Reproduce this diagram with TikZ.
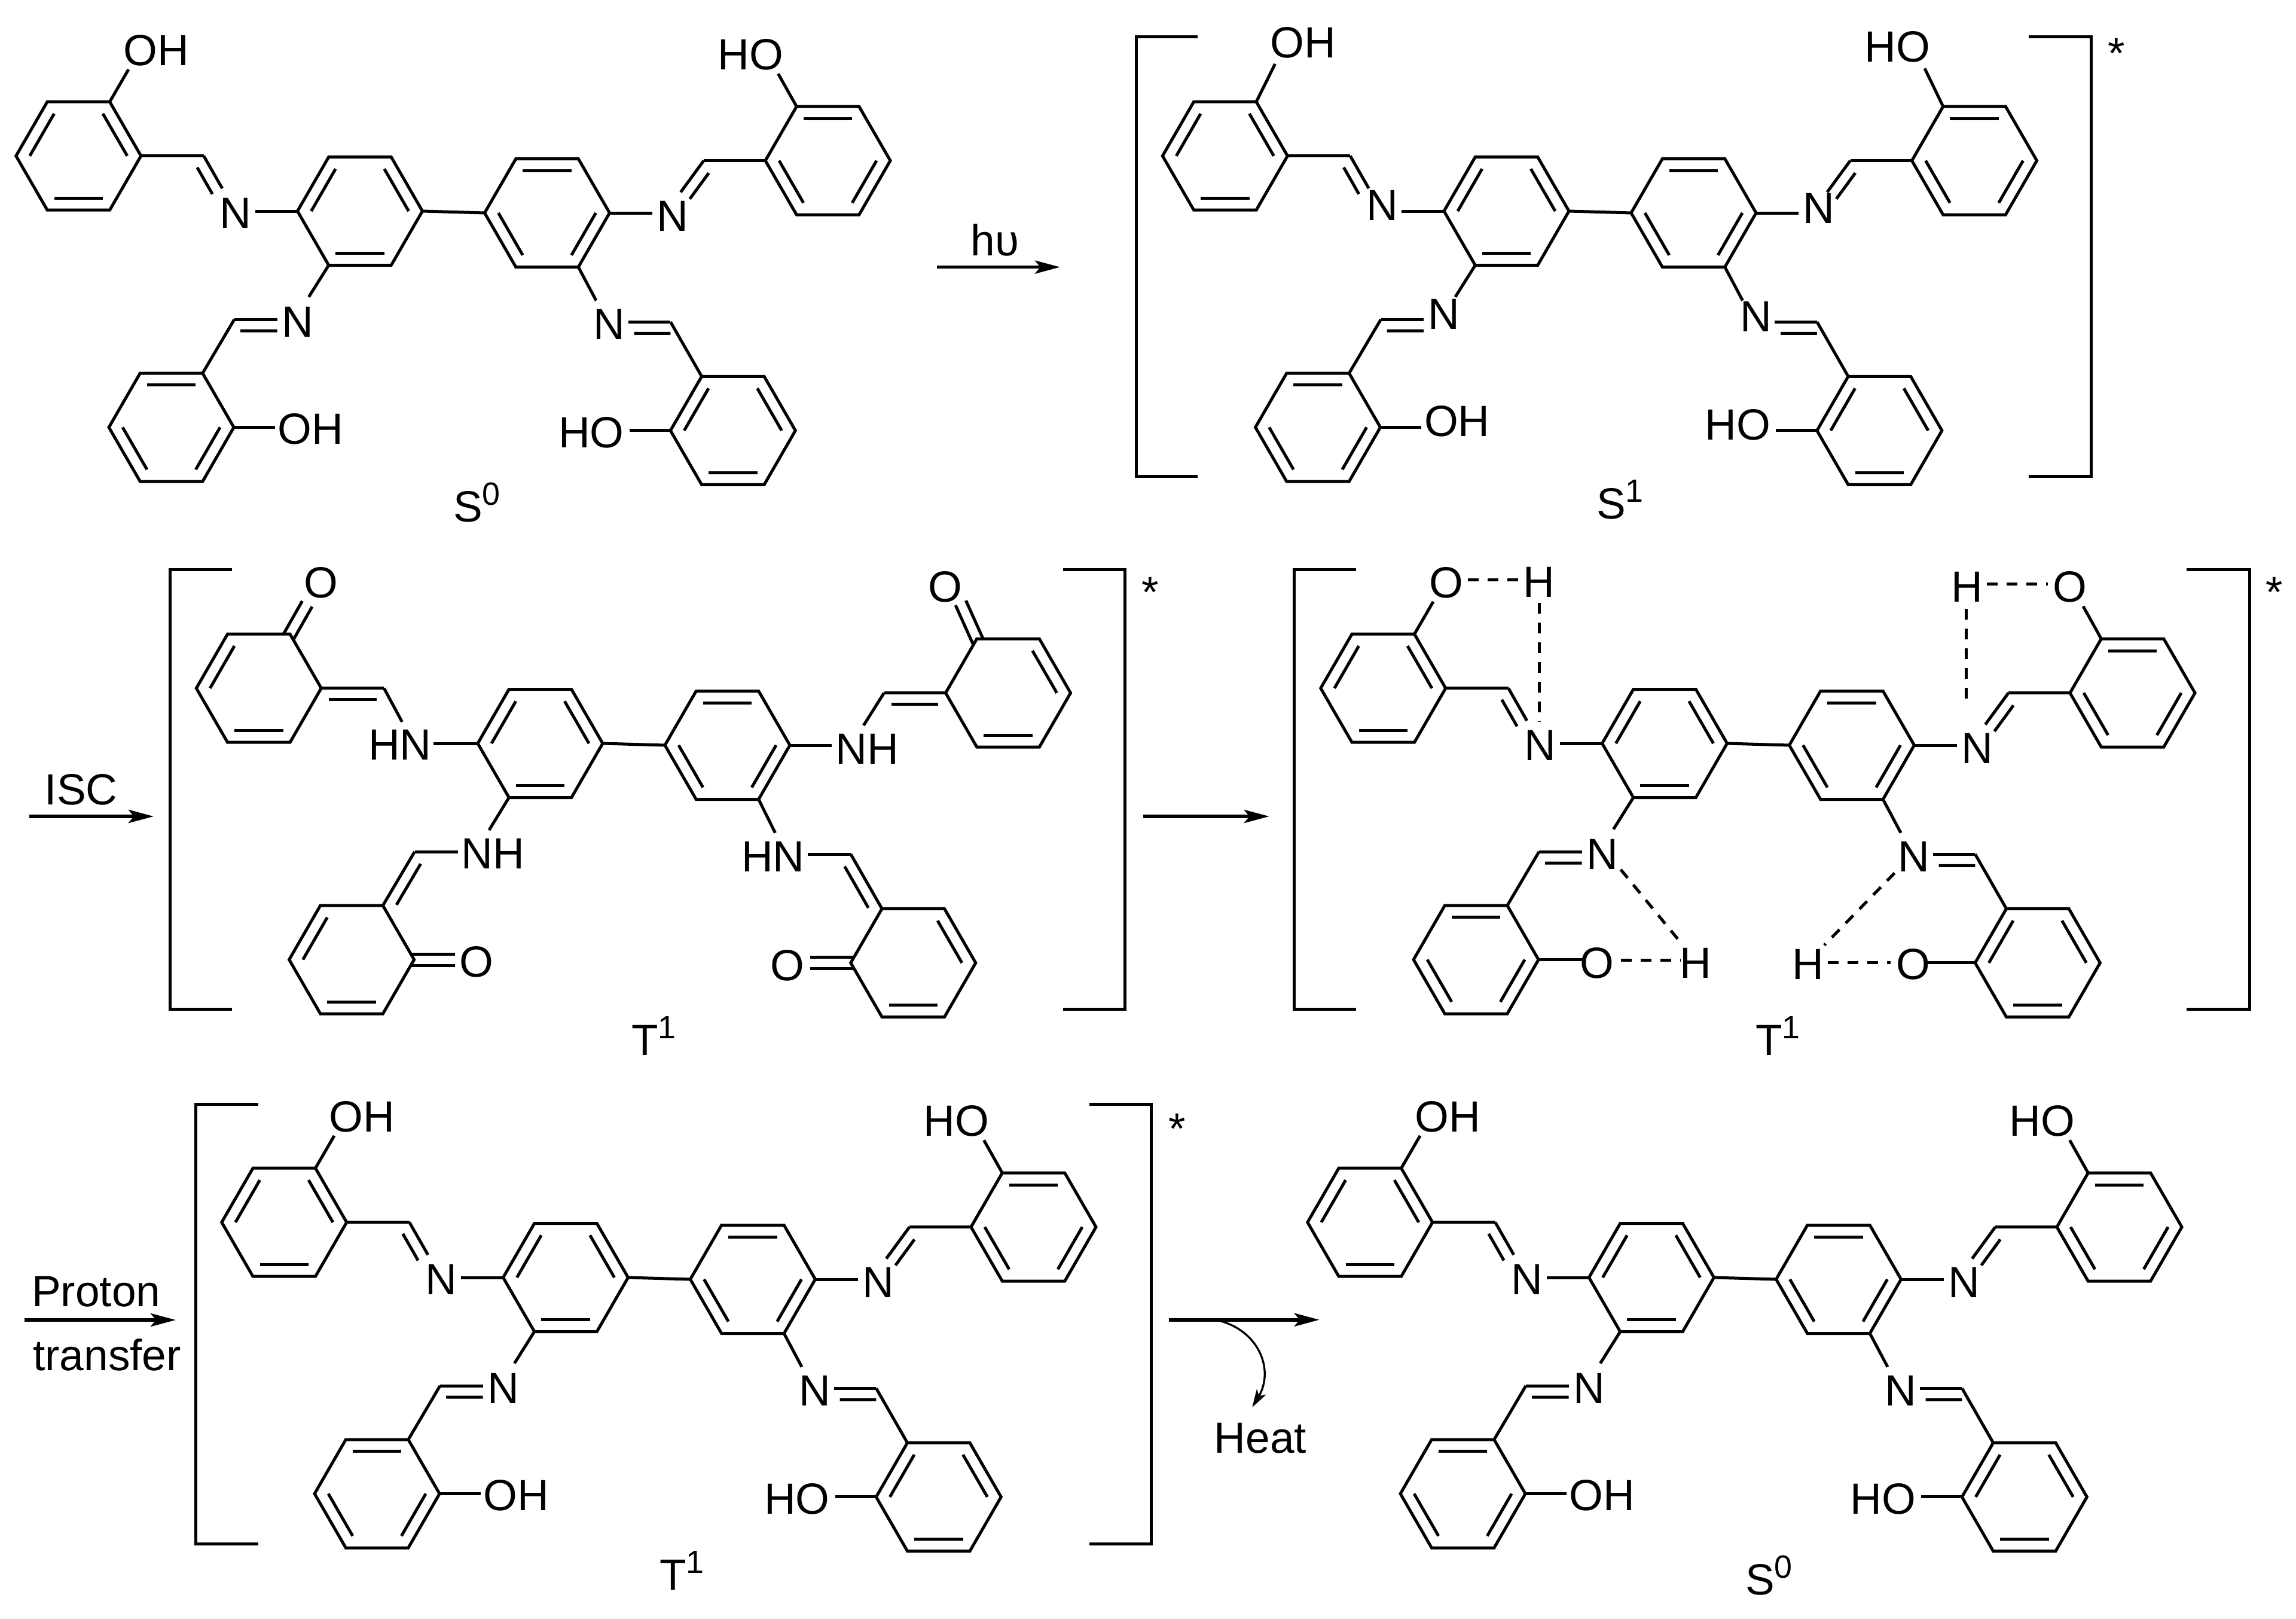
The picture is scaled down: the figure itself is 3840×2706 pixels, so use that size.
\documentclass[tikz,border=0pt]{standalone}
\usepackage{fontspec}
\setmainfont{Liberation Sans}
\usetikzlibrary{calc,arrows.meta}
\newcommand\chemfont{\fontsize{20.77pt}{24pt}\selectfont}
\newcommand\supr[1]{\raisebox{0.28cm}{\fontsize{15.3pt}{17pt}\selectfont #1}}
\tikzset{
 bond/.style={line width=0.05cm},
 hbond/.style={line width=0.05cm,dash pattern=on 0.18cm off 0.15cm},
 lab/.style={inner sep=0pt,outer sep=0pt,anchor=base,yshift=-0.26cm,font=\chemfont},
 statelab/.style={inner sep=0pt,outer sep=0pt,anchor=base west,yshift=-0.26cm,font=\chemfont},
 rxn/.style={line width=0.057cm,-{Stealth[length=0.42cm,width=0.22cm,inset=0.09cm]}},
 heatarrow/.style={line width=0.033cm,-{Stealth[length=0.3cm,width=0.18cm,inset=0.08cm]}},
}
% ring: name, centre x, centre y
\newcommand\hexa[3]{%
 \coordinate (#1-c) at (#2,#3);
 \coordinate (#1-1) at (#2+52.25,#3-90.5);
 \coordinate (#1-2) at (#2+104.5,#3);
 \coordinate (#1-3) at (#2+52.25,#3+90.5);
 \coordinate (#1-4) at (#2-52.25,#3+90.5);
 \coordinate (#1-5) at (#2-104.5,#3);
 \coordinate (#1-6) at (#2-52.25,#3-90.5);
 \draw[bond] (#1-1) -- (#1-2) -- (#1-3) -- (#1-4) -- (#1-5) -- (#1-6) -- cycle;
}
% inner ring line: ring, vertex, vertex
\newcommand\dbl[3]{\draw[bond] ($(#1-#2)!0.22!(#1-c)$) -- ($(#1-#3)!0.22!(#1-c)$);}
% parallel line: from, to, side angle, start, end
\newcommand\para[5]{%
 \coordinate (parafar) at ($(#1)!3!(#2)$);
 \draw[bond] ($(#1)!#4!(#2)!0.19cm!#3:(parafar)$) -- ($(#1)!#5!(#2)!0.19cm!#3:(parafar)$);}
% C=O style centred double line: from, to
\newcommand\twin[2]{%
 \draw[bond] ($(#1)!-0.055cm!(#2)!0.095cm!90:(#2)$) -- ($(#2)!0.095cm!-90:(#1)$);
 \draw[bond] ($(#1)!-0.055cm!(#2)!0.095cm!-90:(#2)$) -- ($(#2)!0.095cm!90:(#1)$);
}
% parts shared by all molecules: prefix
\newcommand\frameparts[1]{%
 \hexa{#1A}{131.3}{260.7}
 \hexa{#1B}{602}{353}
 \hexa{#1C}{915}{356}
 \hexa{#1D}{1384.5}{268.6}
 \hexa{#1E}{286.6}{714.5}
 \hexa{#1F}{1225.8}{719.9}
 \draw[bond] (#1B-2) -- (#1C-5);
 \dbl{#1B}{5}{6}\dbl{#1B}{1}{2}\dbl{#1B}{3}{4}
 \dbl{#1C}{4}{5}\dbl{#1C}{6}{1}\dbl{#1C}{2}{3}
 \coordinate (#1CHa) at (340.7,260.7);
 \coordinate (#1CHd) at (1177,268.6);
 \coordinate (#1CHe) at (392,534);
 \coordinate (#1CHf) at (1121.4,538.3);
}
% imine form: prefix, label y shift
\newcommand\imineform[2]{%
 \frameparts{#1}
 \dbl{#1A}{1}{2}\dbl{#1A}{3}{4}\dbl{#1A}{5}{6}
 \dbl{#1D}{6}{1}\dbl{#1D}{2}{3}\dbl{#1D}{4}{5}
 \dbl{#1E}{6}{1}\dbl{#1E}{2}{3}\dbl{#1E}{4}{5}
 \dbl{#1F}{5}{6}\dbl{#1F}{1}{2}\dbl{#1F}{3}{4}
 \draw[bond] (#1A-2) -- (#1CHa);
 \draw[bond] (#1D-5) -- (#1CHd);
 \draw[bond] (#1E-1) -- (#1CHe);
 \draw[bond] (#1F-6) -- (#1CHf);
 \node[lab] (#1Na) at (394,355+#2) {N};
 \node[lab] (#1Nd) at (1124.4,360+#2) {N};
 \node[lab] (#1Ne) at (497.5,537.3+#2) {N};
 \node[lab] (#1Nf) at (1019,541.3+#2) {N};
 \coordinate (#1na1) at (371.7,315);
 \coordinate (#1nd1) at (1138.3,321.4);
 \coordinate (#1ne1) at (463.7,534);
 \coordinate (#1nf1) at (1050.7,538.3);
 \coordinate (#1na2) at (426.7,353);
 \coordinate (#1nd2) at (1090.5,356);
 \coordinate (#1ne2) at (516.4,496.5);
 \coordinate (#1nf2) at (997,502.5);
 \draw[bond] (#1CHa) -- (#1na1); \para{#1CHa}{#1na1}{-90}{0.18}{1}
 \draw[bond] (#1CHd) -- (#1nd1); \para{#1CHd}{#1nd1}{90}{0.18}{1}
 \draw[bond] (#1CHe) -- (#1ne1); \para{#1CHe}{#1ne1}{-90}{0.14}{1}
 \draw[bond] (#1CHf) -- (#1nf1); \para{#1CHf}{#1nf1}{90}{0}{0.86}
 \draw[bond] (#1B-5) -- (#1na2);
 \draw[bond] (#1C-2) -- (#1nd2);
 \draw[bond] (#1B-4) -- (#1ne2);
 \draw[bond] (#1C-3) -- (#1nf2);
}
% phenol molecule: prefix, dx, dy, label y shift, O bond y shift
\newcommand\phenol[5]{%
 \begin{scope}[shift={(#2,#3)}]
 \imineform{#1}{#4}
 \node[lab] (#1OHa) at (261.5,83+#4) {OH};
 \node[lab] (#1HOd) at (1255.7,90.5+#4) {HO};
 \node[lab] (#1OHe) at (519.4,716.4+#4) {OH};
 \node[lab] (#1HOf) at (989,722.4+#4) {HO};
 \coordinate (#1oa) at (215,116+#5);
 \coordinate (#1od) at (1301.5,123.4+#5);
 \coordinate (#1oe) at (459.7,714.5);
 \coordinate (#1of) at (1052.7,719.9);
 \draw[bond] (#1A-1) -- (#1oa);
 \draw[bond] (#1D-6) -- (#1od);
 \draw[bond] (#1E-2) -- (#1oe);
 \draw[bond] (#1F-5) -- (#1of);
 \end{scope}
}
% bracket pair with star: prefix, left x, left tick, right tick, right x, top, bottom, star x, star y
\newcommand\brackets[9]{%
 \coordinate (#1l1) at (#3,#6); \coordinate (#1l2) at (#2,#6);
 \coordinate (#1l3) at (#2,#7); \coordinate (#1l4) at (#3,#7);
 \coordinate (#1r1) at (#4,#6); \coordinate (#1r2) at (#5,#6);
 \coordinate (#1r3) at (#5,#7); \coordinate (#1r4) at (#4,#7);
 \draw[bond] (#1l1) -- (#1l2) -- (#1l3) -- (#1l4);
 \draw[bond] (#1r1) -- (#1r2) -- (#1r3) -- (#1r4);
 \node[lab] (#1star) at (#8,#9) {*};
}
\begin{document}
\begin{tikzpicture}[x=0.01cm,y=-0.01cm]
\useasboundingbox[fill=white] (0,0) rectangle (3840,2706);
% row 1
\phenol{ma}{0}{0}{0}{0}
\node[statelab] (capa) at (758,846.7) {S\supr{0}};
\coordinate (hva) at (1567,446.6); \coordinate (hvb) at (1773,446.6);
\draw[rxn] (hva) -- (hvb);
\node[lab] (hv) at (1664,401.8) {hυ};
\phenol{mb}{1917.5}{0}{-13}{-9}
\node[statelab] (capb) at (2670,841) {S\supr{1}};
\brackets{bb}{1900}{2003}{3392.5}{3497}{62}{796.8}{3540}{88}
% row 2 left
\coordinate (isca) at (48.5,1365); \coordinate (iscb) at (257,1365);
\draw[rxn] (isca) -- (iscb);
\node[lab] (isc) at (135.7,1319) {ISC};
\begin{scope}[shift={(301.5,890)}]
 \frameparts{mc}
 \dbl{mcA}{5}{6}\dbl{mcA}{3}{4}
 \dbl{mcD}{1}{2}\dbl{mcD}{3}{4}
 \dbl{mcE}{5}{6}\dbl{mcE}{3}{4}
 \dbl{mcF}{1}{2}\dbl{mcF}{3}{4}
 \draw[bond] (mcA-2) -- (mcCHa); \para{mcA-2}{mcCHa}{-90}{0.12}{0.88}
 \draw[bond] (mcD-5) -- (mcCHd); \para{mcD-5}{mcCHd}{90}{0.12}{0.88}
 \draw[bond] (mcE-1) -- (mcCHe); \para{mcE-1}{mcCHe}{-90}{0.12}{0.88}
 \draw[bond] (mcF-6) -- (mcCHf); \para{mcF-6}{mcCHf}{90}{0.12}{0.88}
 \node[lab] (mcHNa) at (367.4,354.4) {HN};
 \node[lab] (mcNHd) at (1148.9,361.3) {NH};
 \node[lab] (mcNHe) at (522.5,536.4) {NH};
 \node[lab] (mcHNf) at (991.4,541) {HN};
 \coordinate (mcn1) at (371,317); \coordinate (mcn2) at (423,353);
 \coordinate (mcn3) at (1142.8,322.9); \coordinate (mcn4) at (1089.5,356);
 \coordinate (mcn5) at (464.3,534); \coordinate (mcn6) at (516.4,498);
 \coordinate (mcn7) at (1049.5,538.3); \coordinate (mcn8) at (995,502.5);
 \draw[bond] (mcCHa) -- (mcn1); \draw[bond] (mcB-5) -- (mcn2);
 \draw[bond] (mcCHd) -- (mcn3); \draw[bond] (mcC-2) -- (mcn4);
 \draw[bond] (mcCHe) -- (mcn5); \draw[bond] (mcB-4) -- (mcn6);
 \draw[bond] (mcCHf) -- (mcn7); \draw[bond] (mcC-3) -- (mcn8);
 \node[lab] (mcOa) at (235.3,83.5) {O};
 \node[lab] (mcOd) at (1279.7,90.4) {O};
 \node[lab] (mcOe) at (495.8,717.8) {O};
 \node[lab] (mcOf) at (1015.6,723.6) {O};
 \coordinate (mco1) at (212.3,119.6);
 \coordinate (mco2) at (1305.2,118);
 \coordinate (mco3) at (459.5,714.5);
 \coordinate (mco4) at (1053.2,719.9);
 \twin{mcA-1}{mco1}
 \twin{mcD-6}{mco2}
 \twin{mcE-2}{mco3}
 \twin{mcF-5}{mco4}
\end{scope}
\node[statelab] (capc) at (1056,1738) {T\supr{1}};
\brackets{bc}{284.7}{387.7}{1777.5}{1881.7}{952.8}{1687.6}{1924}{989}
% row 2 right
\coordinate (ara) at (1912.4,1365); \coordinate (arb) at (2122.8,1365);
\draw[rxn] (ara) -- (arb);
\begin{scope}[shift={(2182,890)}]
 \imineform{md}{0}
 \coordinate (mdo1) at (215,116);
 \coordinate (mdo2) at (1302,123.7);
 \coordinate (mdo3) at (466.8,714.5);
 \coordinate (mdo4) at (1042.3,719.9);
 \draw[bond] (mdA-1) -- (mdo1);
 \draw[bond] (mdD-6) -- (mdo2);
 \draw[bond] (mdE-2) -- (mdo3);
 \draw[bond] (mdF-5) -- (mdo4);
\end{scope}
\node[lab] (mdOa) at (2418.5,973) {O};
\node[lab] (mdHa) at (2574,972.5) {H};
\node[lab] (mdHd) at (3289.9,980.4) {H};
\node[lab] (mdOd) at (3461.8,980.4) {O};
\node[lab] (mdOe) at (2671,1609) {O};
\node[lab] (mdHe) at (2835.6,1609) {H};
\node[lab] (mdHf) at (3023.8,1611.8) {H};
\node[lab] (mdOf) at (3199.5,1611.8) {O};
\coordinate (h1) at (2455,969.3); \coordinate (h2) at (2541.7,969.3);
\coordinate (h3) at (2574.7,1008); \coordinate (h4) at (2574.7,1206.7);
\coordinate (h5) at (3323.3,976.3); \coordinate (h6) at (3424.8,976.3);
\coordinate (h7) at (3288.6,1017.7); \coordinate (h8) at (3288.6,1175.5);
\coordinate (h9) at (2710.6,1453.9); \coordinate (h10) at (2809.7,1574.5);
\coordinate (h11) at (2710.6,1605); \coordinate (h12) at (2809.7,1605);
\coordinate (h13) at (3168.6,1459.7); \coordinate (h14) at (3051,1580.3);
\coordinate (h15) at (3057.2,1609); \coordinate (h16) at (3162.4,1609);
\draw[hbond] (h1) -- (h2);
\draw[hbond] (h3) -- (h4);
\draw[hbond] (h5) -- (h6);
\draw[hbond] (h7) -- (h8);
\draw[hbond] (h9) -- (h10);
\draw[hbond] (h11) -- (h12);
\draw[hbond] (h13) -- (h14);
\draw[hbond] (h15) -- (h16);
\node[statelab] (capd) at (2936,1738) {T\supr{1}};
\brackets{bd}{2164.9}{2267.6}{3657.4}{3762.6}{952.8}{1687.6}{3804}{989}
% row 3
\coordinate (pta) at (41.3,2207); \coordinate (ptb) at (294,2207);
\draw[rxn] (pta) -- (ptb);
\node[lab] (proton) at (160.7,2158) {Proton};
\node[lab] (transfer) at (179,2265) {transfer};
\phenol{me}{344}{1783}{0}{0}
\node[statelab] (cape) at (1103,2632) {T\supr{1}};
\brackets{be}{327.6}{431.7}{1821.5}{1925.6}{1846}{2581.8}{1969}{1886}
\coordinate (hta) at (1954.7,2206.7); \coordinate (htb) at (2206.7,2206.7);
\draw[rxn] (hta) -- (htb);
\coordinate (hc) at (2033,2206.7); \coordinate (hd) at (2094.3,2353);
\draw[heatarrow] (hc) .. controls (2105,2222) and (2132,2290) .. (hd);
\node[lab] (heat) at (2107.8,2403.8) {Heat};
\phenol{mf}{2160}{1783}{0}{0}
\node[statelab] (capf) at (2919,2640.7) {S\supr{0}};
\end{tikzpicture}
\end{document}
